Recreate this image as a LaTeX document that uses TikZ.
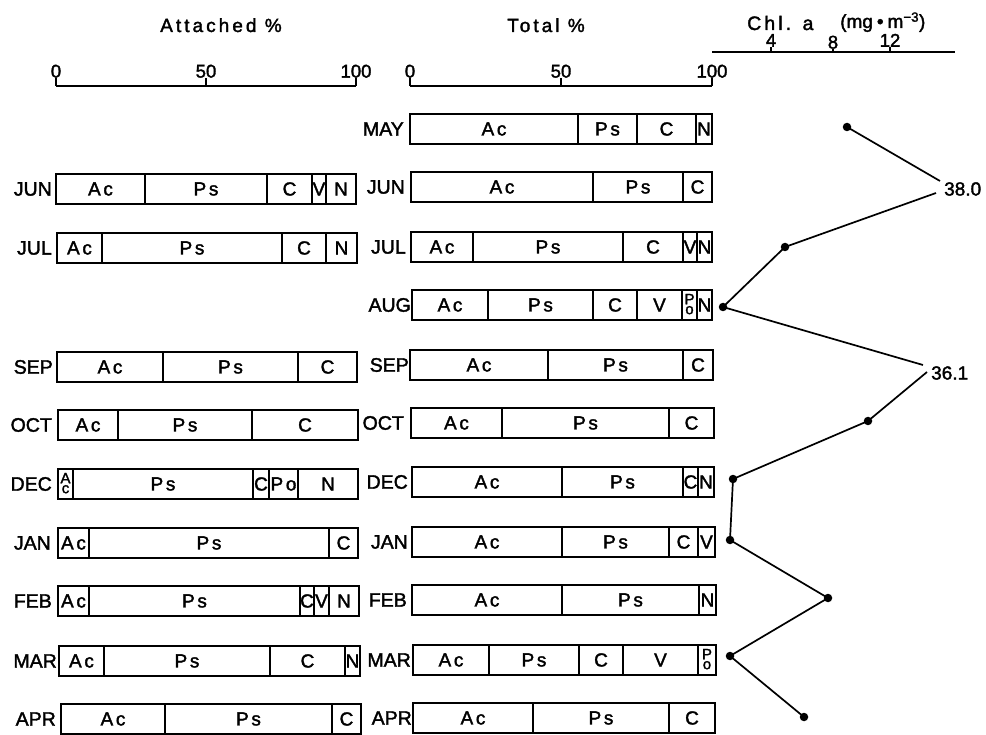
\documentclass[tikz,border=0pt]{standalone}
\usepackage{fontspec}
\setmainfont[FakeBold=1.8]{Liberation Sans}
\newfontfamily\lsfont[LetterSpace=14,FakeBold=1.8]{Liberation Sans}
\newfontfamily\ttlfont[LetterSpace=16,FakeBold=1.8]{Liberation Sans}
\newcommand\stk[2]{{\fontsize{15}{10}\selectfont\def\arraystretch{0.62}\begin{tabular}{@{}c@{}}#1\\#2\end{tabular}}}
\newcommand\barrow[3]{%
  \foreach \xa/\xb/\tx [count=\i] in {#3}{%
    \node[segbox, minimum width={(\xb-\xa)*1pt}] (#1-\i) at ({(\xa+\xb)/2},#2) {};
    \node[lbl] (#1-\i-t) at (#1-\i.center) {\tx};
  }}
\begin{document}
\begin{tikzpicture}[x=1pt,y=-1pt,
  segbox/.style={draw, line width=1.6pt, minimum height=30pt, inner sep=0pt},
  lbl/.style={inner sep=0pt, font=\fontsize{19}{21}\selectfont\lsfont},
  mon/.style={anchor=east, inner sep=0pt, font=\fontsize{19.5}{21}\selectfont},
  num/.style={anchor=south, inner sep=0pt, font=\fontsize{18.5}{20}\selectfont},
  ttl/.style={anchor=base, inner sep=0pt, font=\fontsize{19}{21}\selectfont\ttlfont},
  axis/.style={line width=1.6pt},
  pt/.style={circle, fill, inner sep=0pt, minimum size=8.5pt},
  chl/.style={line width=1.7pt},
  val/.style={anchor=west, inner sep=0pt, font=\fontsize{19}{21}\selectfont}]
\useasboundingbox (0,0) rectangle (986,735);

% ---------- titles ----------
\node[ttl] (tatt) at (221,32) {Attached \%};
\node[ttl] (ttot) at (546,32) {Total \%};
\node[anchor=base west, inner sep=0pt, font=\fontsize{19.5}{21}\selectfont\ttlfont] (tchl) at (747,30) {Chl. a};
\node[anchor=base west, inner sep=0pt, font=\fontsize{19}{20}\selectfont] (tunit) at (840,28) {(mg\hspace{4pt}•\hspace{4pt}m\textsuperscript{−3})};

% ---------- attached axis ----------
\coordinate (aa0) at (56,86);
\coordinate (aa1) at (356,86);
\draw[axis] (aa0) -- (aa1);
\foreach \x/\t [count=\k] in {56/0,206/50,356/100}{
  \node[num] (an\k) at (\x,78) {\t};
  \draw[axis] (an\k.south) -- (\x,86);
}
% ---------- total axis ----------
\coordinate (ta0) at (410,86);
\coordinate (ta1) at (712,86);
\draw[axis] (ta0) -- (ta1);
\foreach \x/\t [count=\k] in {410/0,561/50,712/100}{
  \node[num] (tn\k) at (\x,78) {\t};
  \draw[axis] (tn\k.south) -- (\x,86);
}
% ---------- chl axis ----------
\coordinate (ca0) at (712,52);
\coordinate (ca1) at (955,52);
\draw[axis] (ca0) -- (ca1);
\foreach \x/\t/\yy [count=\k] in {771/4/47,833/8/49,890/12/47}{
  \node[num] (cn\k) at (\x,\yy) {\t};
  \draw[axis] (cn\k.south) -- (\x,52);
}

% ---------- attached bars ----------
\node[mon] (am-jun) at (52,189) {JUN};
\barrow{a-jun}{189}{56/145/Ac, 145/267/Ps, 267/312/C, 312/326/V, 326/356/N}
\node[mon] (am-jul) at (52,248) {JUL};
\barrow{a-jul}{248}{57/102/Ac, 102/282/Ps, 282/326/C, 326/357/N}
\node[mon] (am-sep) at (53,367) {SEP};
\barrow{a-sep}{367}{57/163/Ac, 163/298/Ps, 298/357/C}
\node[mon] (am-oct) at (52,425) {OCT};
\barrow{a-oct}{425}{58/118/Ac, 118/252/Ps, 252/358/C}
\node[mon] (am-dec) at (52,484) {DEC};
\barrow{a-dec}{484}{58/73/{\stk{A}{c}}, 73/253/Ps, 253/269/C, 269/298/Po, 298/358/N}
\node[mon] (am-jan) at (51,543) {JAN};
\barrow{a-jan}{543}{58/89/Ac, 89/329/Ps, 329/358/C}
\node[mon] (am-feb) at (52,601) {FEB};
\barrow{a-feb}{601}{58/89/Ac, 89/300/Ps, 300/314/C, 314/329/V, 329/359/N}
\node[mon] (am-mar) at (57,661) {MAR};
\barrow{a-mar}{661}{59/104/Ac, 104/270/Ps, 270/345/C, 345/360/N}
\node[mon] (am-apr) at (56,719) {APR};
\barrow{a-apr}{719}{61/165/Ac, 165/332/Ps, 332/361/C}

% ---------- total bars ----------
\node[mon] (tm-may) at (404,129) {MAY};
\barrow{t-may}{129}{410/578/Ac, 578/637/Ps, 637/696/C, 696/712/N}
\node[mon] (tm-jun) at (405,187) {JUN};
\barrow{t-jun}{187}{411/593/Ac, 593/683/Ps, 683/712/C}
\node[mon] (tm-jul) at (406,247) {JUL};
\barrow{t-jul}{247}{411/473/Ac, 473/623/Ps, 623/683/C, 683/697/V, 697/712/N}
\node[mon] (tm-aug) at (411,305) {AUG};
\barrow{t-aug}{305}{412/488/Ac, 488/593/Ps, 593/637/C, 637/682/V, 682/697/{\stk{P}{o}}, 697/712/N}
\node[mon] (tm-sep) at (409,365) {SEP};
\barrow{t-sep}{365}{410/548/Ac, 548/683/Ps, 683/713/C}
\node[mon] (tm-oct) at (404,423) {OCT};
\barrow{t-oct}{423}{411/502/Ac, 502/669/Ps, 669/714/C}
\node[mon] (tm-dec) at (408,482) {DEC};
\barrow{t-dec}{482}{412/562/Ac, 562/683/Ps, 683/698/C, 698/714/N}
\node[mon] (tm-jan) at (408,542) {JAN};
\barrow{t-jan}{542}{412/562/Ac, 562/669/Ps, 669/698/C, 698/715/V}
\node[mon] (tm-feb) at (407,600) {FEB};
\barrow{t-feb}{600}{412/562/Ac, 562/699/Ps, 699/716/N}
\node[mon] (tm-mar) at (411,660) {MAR};
\barrow{t-mar}{660}{413/489/Ac, 489/579/Ps, 579/623/C, 623/698/V, 698/716/{\stk{P}{o}}}
\node[mon] (tm-apr) at (412,718) {APR};
\barrow{t-apr}{718}{413/533/Ac, 533/669/Ps, 669/715/C}

% ---------- chlorophyll profile ----------
\node[pt] (c-may) at (847,127) {};
\node[pt] (c-jul) at (785,247) {};
\node[pt] (c-aug) at (723,307) {};
\node[pt] (c-oct) at (868,421) {};
\node[pt] (c-dec) at (733,479) {};
\node[pt] (c-jan) at (730,540) {};
\node[pt] (c-feb) at (828,598) {};
\node[pt] (c-mar) at (730,656) {};
\node[pt] (c-apr) at (804,717) {};
\node[val] (v-jun) at (944,189) {38.0};
\node[val] (v-sep) at (931,373) {36.1};
\coordinate (j1) at (940,181);
\coordinate (j2) at (936,193);
\coordinate (s1) at (923,365);
\coordinate (s2) at (927,372);
\draw[chl] (c-may.center) -- (j1);
\draw[chl] (j2) -- (c-jul.center) -- (c-aug.center) -- (s1);
\draw[chl] (s2) -- (c-oct.center) -- (c-dec.center) -- (c-jan.center) -- (c-feb.center) -- (c-mar.center) -- (c-apr.center);
\end{tikzpicture}
\end{document}
